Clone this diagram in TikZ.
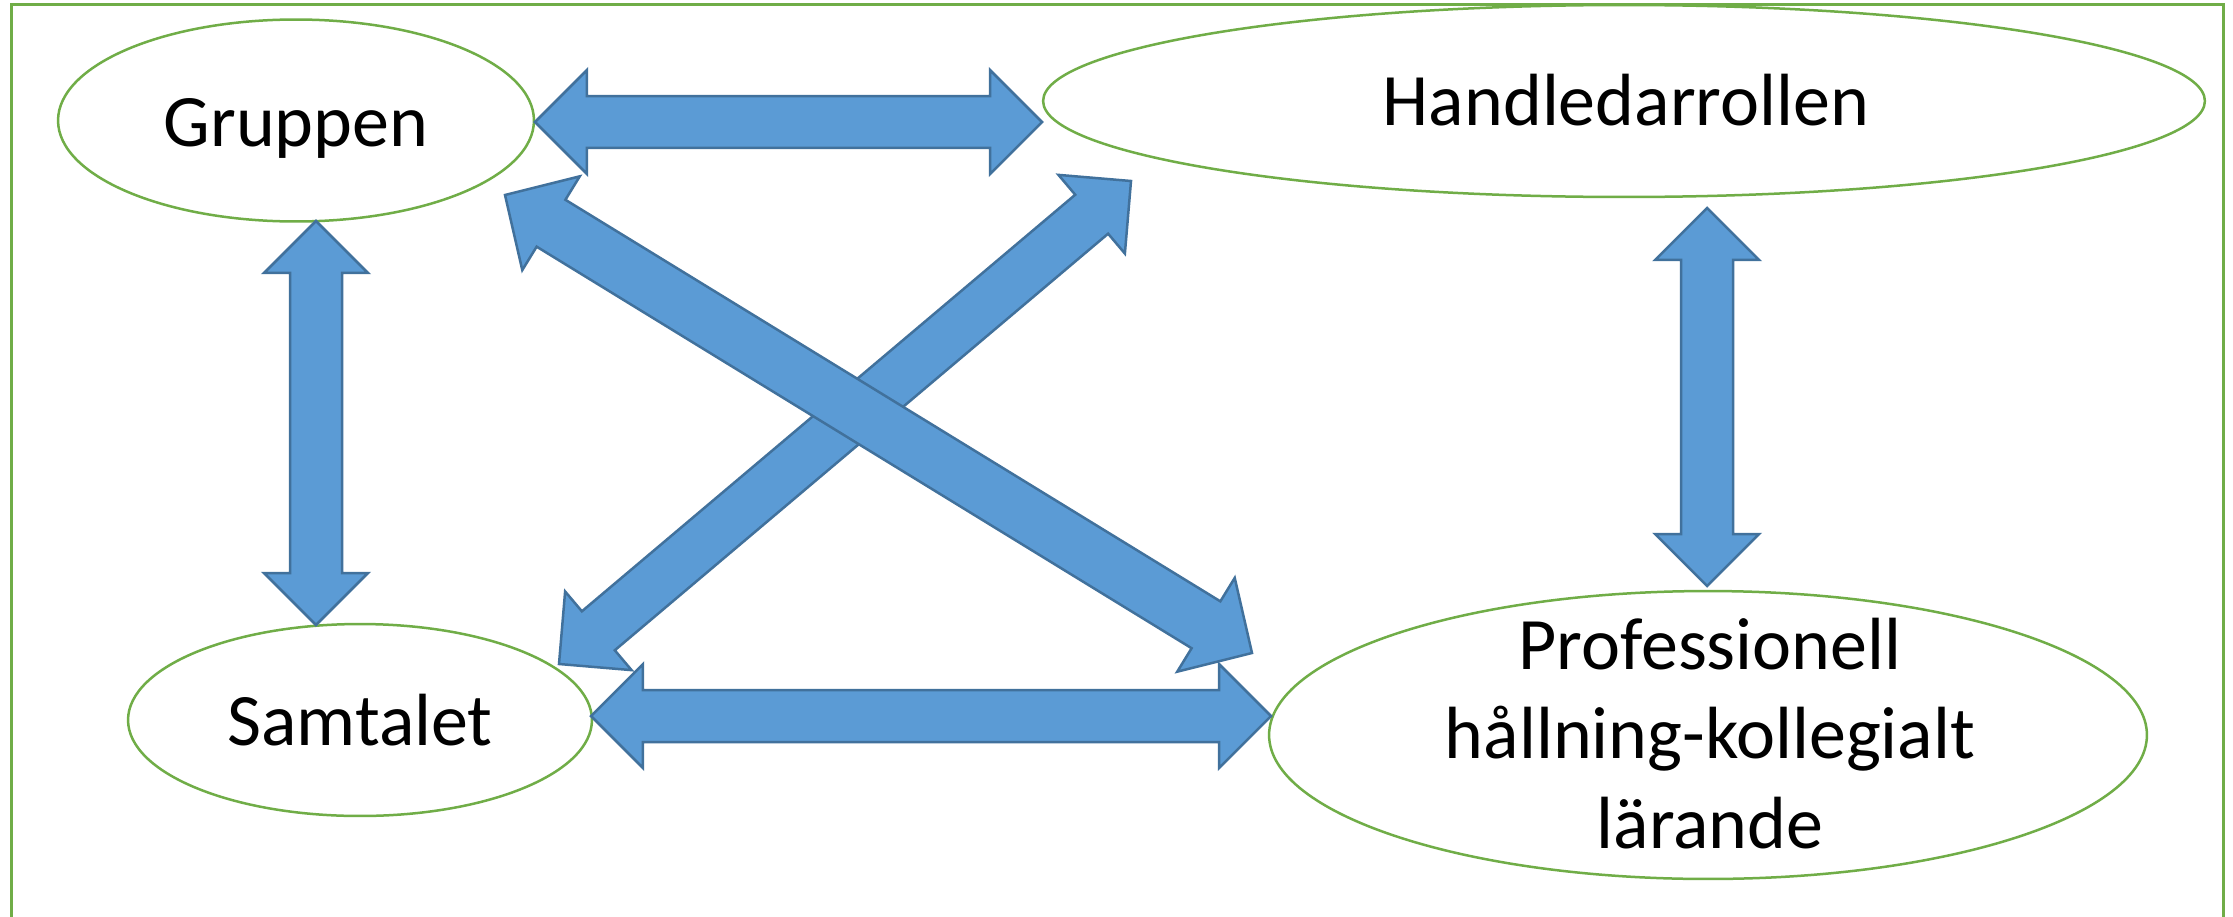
\documentclass[tikz,border=0pt]{standalone}
\usepackage{fontspec}
\setmainfont{Carlito}
\usetikzlibrary{shapes.geometric,calc}
\definecolor{framegreen}{HTML}{70AD47}
\definecolor{arrfill}{HTML}{5B9BD5}
\definecolor{arrline}{HTML}{41719C}
\newcommand\bigtext{\fontsize{42.1pt}{50.9pt}\selectfont}
\newcommand\blockarr[5]{%
  \begin{scope}
    \coordinate (ah) at ($(#1)!#3!(#2)$);
    \coordinate (bh) at ($(#2)!#3!(#1)$);
    \draw[blockarrow] (#1) -- ($(ah)!#4!90:(#2)$) -- ($(ah)!#5!90:(#2)$)
      -- ($(bh)!#5!-90:(#1)$) -- ($(bh)!#4!-90:(#1)$) -- (#2)
      -- ($(bh)!#4!90:(#1)$) -- ($(bh)!#5!90:(#1)$)
      -- ($(ah)!#5!-90:(#2)$) -- ($(ah)!#4!-90:(#2)$) -- cycle;
  \end{scope}}
\tikzset{
  topic/.style={ellipse, draw=framegreen, line width=0.05cm, fill=white, inner sep=0pt},
  label/.style={font=\bigtext, text=black, inner sep=0pt, align=center},
  blockarrow/.style={fill=arrfill, draw=arrline, line width=0.05cm, line join=miter},
  frame/.style={draw=framegreen, line width=0.06cm}
}
\begin{document}
\begin{tikzpicture}[x=0.02cm, y=-0.02cm]
\useasboundingbox (0,0) rectangle (2233,916);
\fill[white] (0,0) rectangle (2233,916);
\draw[frame] (11.5,930) -- (11.5,4.5) -- (2223,4.5) -- (2223,930);

% topics
\node[topic, minimum width=9.52cm, minimum height=4.04cm] (g) at (296,120.5) {};
\node[topic, minimum width=23.24cm, minimum height=3.84cm] (h) at (1624,101) {};
\node[topic, minimum width=9.28cm, minimum height=3.84cm] (s) at (360,720) {};
\node[topic, minimum width=17.56cm, minimum height=5.76cm] (p) at (1708,735) {};

\node[label, anchor=base] (gt) at (296,146) {Gruppen};
\node[label, anchor=base] (ht) at (1626,125.5) {Handledarrollen};
\node[label, anchor=base] (st) at (360,745) {Samtalet};
\node[label, anchor=base] (pt) at (1710,848) {Professionell\\hållning-kollegialt\\lärande};

% arrow tips
\coordinate (a1) at (535,122);  \coordinate (b1) at (1042,122);
\coordinate (a2) at (316,221);  \coordinate (b2) at (316,625);
\coordinate (a3) at (1707,208); \coordinate (b3) at (1707,586);
\coordinate (a4) at (591,716);  \coordinate (b4) at (1271,716);
\coordinate (a5) at (505,195);  \coordinate (b5) at (1252,653);
\coordinate (a6) at (1131,181); \coordinate (b6) at (559,664);

\blockarr{a1}{b1}{1.04cm}{1.04cm}{0.52cm}
\blockarr{a2}{b2}{1.04cm}{1.04cm}{0.52cm}
\blockarr{a3}{b3}{1.04cm}{1.04cm}{0.52cm}
\blockarr{a4}{b4}{1.04cm}{1.04cm}{0.52cm}
\blockarr{a6}{b6}{1.03cm}{1.03cm}{0.51cm}
\blockarr{a5}{b5}{1.08cm}{1.1cm}{0.55cm}
\end{tikzpicture}
\end{document}
